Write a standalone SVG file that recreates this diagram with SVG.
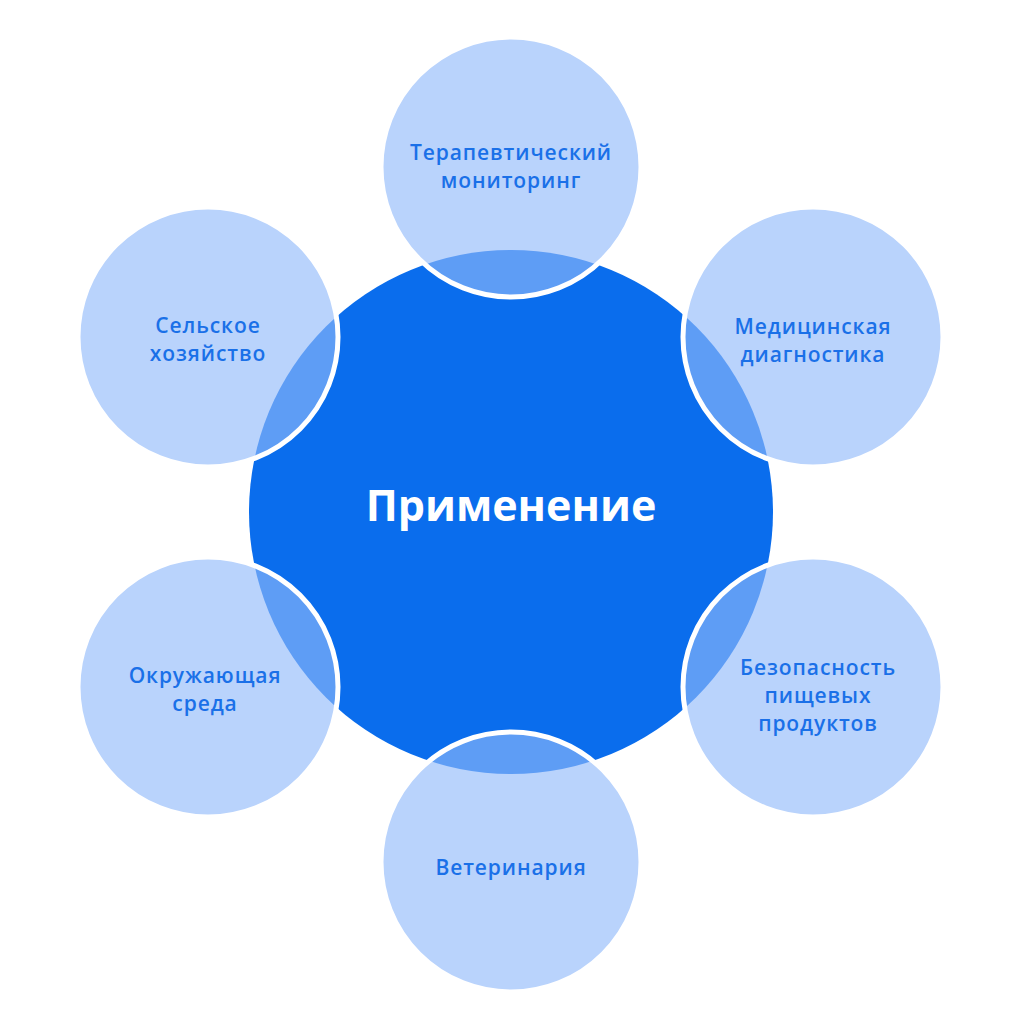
<svg xmlns="http://www.w3.org/2000/svg" width="1023" height="1024" viewBox="0 0 1023 1024">
<style>
.bub{fill:#90bafa;fill-opacity:0.63;stroke:#ffffff;stroke-width:5}
.lbl{font-family:"Open Sans","Noto Sans",sans-serif;font-weight:600;font-size:21px;letter-spacing:0.9px;fill:#1a70e8;text-anchor:middle}
.ttl{font-family:"Open Sans","Noto Sans",sans-serif;font-weight:700;font-size:43px;fill:#ffffff;text-anchor:middle}
</style>
<rect width="1023" height="1024" fill="#ffffff"/>
<g id="center">
<circle cx="511" cy="512" r="262" fill="#0a6ded"/>
<text class="ttl" x="511" y="521">Применение</text>
</g>
<g id="connectors"></g>
<g id="n-top">
<circle class="bub" cx="511" cy="167" r="130"/>
<text class="lbl" x="511" y="160">Терапевтический</text>
<text class="lbl" x="511" y="188">мониторинг</text>
</g>
<g id="n-top-right">
<circle class="bub" cx="813" cy="337" r="130"/>
<text class="lbl" x="813" y="334">Медицинская</text>
<text class="lbl" x="813" y="362">диагностика</text>
</g>
<g id="n-bottom-right">
<circle class="bub" cx="813" cy="687" r="130"/>
<text class="lbl" x="818" y="675">Безопасность</text>
<text class="lbl" x="818" y="703">пищевых</text>
<text class="lbl" x="818" y="731">продуктов</text>
</g>
<g id="n-bottom">
<circle class="bub" cx="511" cy="862" r="130"/>
<text class="lbl" x="511" y="875">Ветеринария</text>
</g>
<g id="n-bottom-left">
<circle class="bub" cx="208" cy="687" r="130"/>
<text class="lbl" x="205" y="683">Окружающая</text>
<text class="lbl" x="205" y="711">среда</text>
</g>
<g id="n-top-left">
<circle class="bub" cx="208" cy="337" r="130"/>
<text class="lbl" x="208" y="333">Сельское</text>
<text class="lbl" x="208" y="361">хозяйство</text>
</g>
</svg>
